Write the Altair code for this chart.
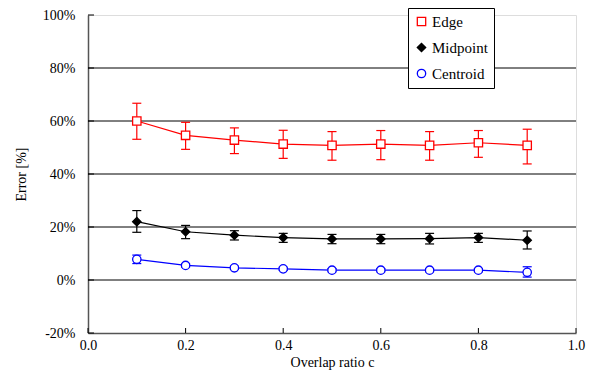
import altair as alt
import pandas as pd

xs = [0.1, 0.2, 0.3, 0.4, 0.5, 0.6, 0.7, 0.8, 0.9]
series_names = ["Edge", "Midpoint", "Centroid"]
series_colors = ["#ff0000", "#000000", "#0000ff"]
series_fills = ["#ffffff", "#000000", "#ffffff"]
series_shapes = ["square", "diamond", "circle"]

edge_val = [60.0, 54.6, 52.8, 51.3, 50.8, 51.3, 50.8, 51.8, 50.8]
edge_hi = [66.7, 59.5, 57.4, 56.5, 56.0, 56.4, 56.0, 56.4, 56.9]
edge_lo = [53.1, 49.3, 47.7, 45.9, 45.2, 45.4, 45.2, 46.3, 43.8]

mid_val = [22.0, 18.2, 16.9, 16.0, 15.5, 15.5, 15.6, 16.0, 15.0]
mid_hi = [26.2, 20.6, 18.6, 17.6, 17.2, 17.2, 17.6, 17.6, 18.5]
mid_lo = [18.0, 15.6, 15.1, 14.2, 13.7, 13.7, 13.6, 14.2, 11.7]

cen_val = [7.8, 5.5, 4.6, 4.2, 3.7, 3.7, 3.7, 3.7, 2.9]
cen_hi = [9.4, 6.1, 5.2, 4.8, 4.3, 4.3, 4.3, 4.3, 5.0]
cen_lo = [6.2, 4.9, 4.0, 3.6, 3.1, 3.1, 3.1, 3.1, 1.1]

y_ticks = [-20, 0, 20, 40, 60, 80, 100]
grid_vals = [0, 20, 40, 60, 80]
x_ticks = [0.0, 0.2, 0.4, 0.6, 0.8, 1.0]

rows = []
for name, v, hi, lo in [("Edge", edge_val, edge_hi, edge_lo),
                        ("Midpoint", mid_val, mid_hi, mid_lo),
                        ("Centroid", cen_val, cen_hi, cen_lo)]:
    for x, a, b, c in zip(xs, v, hi, lo):
        rows.append({"x": x, "val": a, "hi": b, "lo": c, "series": name})
df = pd.DataFrame(rows)

FONT = "Liberation Serif"
W, H = 488, 318

xscale = alt.Scale(domain=[0, 1], nice=False)
yscale = alt.Scale(domain=[-20, 100], nice=False)

base = alt.Chart(df)

grid = alt.Chart(pd.DataFrame({"g": grid_vals})).mark_rule(color="black", strokeWidth=1).encode(
    y=alt.Y("g:Q", scale=yscale, axis=alt.Axis(
        values=y_ticks, title="Error [%]", labelExpr="datum.value + '%'",
        grid=False, ticks=False, domainColor="#555555", domainWidth=1.5, labelFlush=False,
        labelFont=FONT, labelFontSize=14, labelColor="black", labelPadding=13,
        titleFont=FONT, titleFontSize=14, titleFontWeight="normal", titleColor="black",
        titlePadding=14)),
    x=alt.value(0), x2=alt.value(W),
)

ytick = alt.Chart(pd.DataFrame({"t": y_ticks})).mark_rule(color="black").encode(
    y=alt.Y("t:Q", scale=yscale), x=alt.value(0), x2=alt.value(6))

xtick = alt.Chart(pd.DataFrame({"t": x_ticks})).mark_rule(color="black").encode(
    x=alt.X("t:Q", scale=xscale, axis=alt.Axis(
        values=x_ticks, format=".1f", title="Overlap ratio c", grid=False, ticks=False,
        domainColor="#555555", domainWidth=1.5, labelFlush=False,
        labelFont=FONT, labelFontSize=14, labelColor="black", labelPadding=5,
        titleFont=FONT, titleFontSize=14, titleFontWeight="normal", titleColor="black",
        titlePadding=3)),
    y=alt.value(H), y2=alt.value(H - 5))

series_layers = []
for name, col in zip(series_names, series_colors):
    b = base.transform_filter(alt.datum.series == name)
    series_layers.append(b.mark_line(strokeWidth=1.2, color=col).encode(
        x=alt.X("x:Q", scale=xscale), y=alt.Y("val:Q", scale=yscale)))
    series_layers.append(b.mark_rule(strokeWidth=1.2, color=col).encode(
        x=alt.X("x:Q", scale=xscale), y=alt.Y("lo:Q", scale=yscale), y2="hi:Q"))
    for f in ["hi", "lo"]:
        series_layers.append(b.mark_rule(strokeWidth=1.2, color=col, xOffset=-4.5, x2Offset=4.5).encode(
            x=alt.X("x:Q", scale=xscale), x2="x:Q", y=alt.Y(f + ":Q", scale=yscale)))

legend = alt.Legend(
    title=None, orient="none", legendX=320, legendY=-7,
    strokeColor="black", fillColor="white", padding=6, cornerRadius=0,
    labelFont=FONT, labelFontSize=15, labelColor="black", rowPadding=10,
    symbolSize=70, symbolStrokeWidth=1.3, labelOffset=3,
)

points = base.mark_point(size=70, strokeWidth=1.3, opacity=1).encode(
    x=alt.X("x:Q", scale=xscale),
    y=alt.Y("val:Q", scale=yscale),
    color=alt.Color("series:N", scale=alt.Scale(domain=series_names, range=series_colors), legend=legend),
    fill=alt.Fill("series:N", scale=alt.Scale(domain=series_names, range=series_fills), legend=legend),
    shape=alt.Shape("series:N", scale=alt.Scale(domain=series_names, range=series_shapes), legend=legend),
)

chart = alt.layer(grid, ytick, xtick, *series_layers, points).properties(
    width=W, height=H,
    autosize=alt.AutoSizeParams(type="none"),
    padding={"left": 80, "top": 7, "right": 11, "bottom": 51},
).configure_view(stroke="#888888", strokeWidth=1.2).configure(background="white")

chart.save("out.html", embed_options={"renderer": "svg", "actions": False})
